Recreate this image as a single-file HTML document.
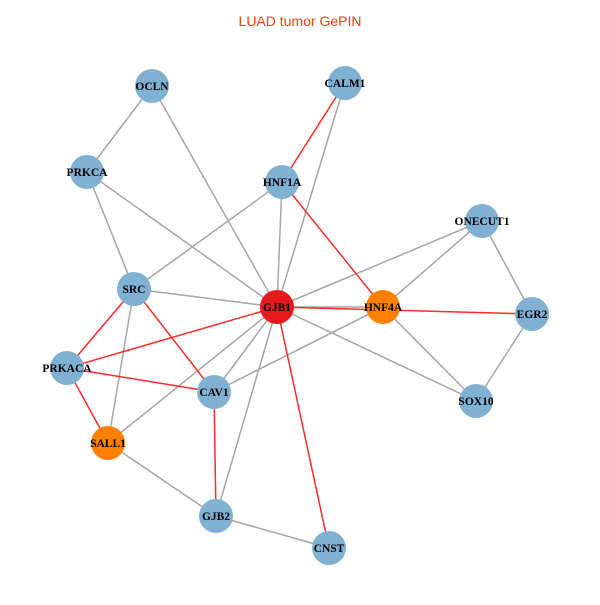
<!DOCTYPE html>
<html><head><meta charset="utf-8"><style>html,body{margin:0;padding:0;background:#fff}</style></head>
<body>
<svg width="600" height="600" xmlns="http://www.w3.org/2000/svg">
<rect width="600" height="600" fill="#fff"/>
<text x="300" y="26" text-anchor="middle" font-family="Liberation Sans, sans-serif" font-size="14" fill="#f2400a">LUAD tumor GePIN</text>
<g stroke="#a6a6a6" stroke-width="1.5">
<line x1="152" y1="86" x2="87" y2="172"/>
<line x1="152" y1="86" x2="277" y2="307"/>
<line x1="345" y1="83" x2="277" y2="307"/>
<line x1="87" y1="172" x2="134" y2="289"/>
<line x1="87" y1="172" x2="277" y2="307"/>
<line x1="282" y1="182" x2="134" y2="289"/>
<line x1="282" y1="182" x2="277" y2="307"/>
<line x1="482" y1="221" x2="277" y2="307"/>
<line x1="482" y1="221" x2="383" y2="307"/>
<line x1="482" y1="221" x2="532" y2="314"/>
<line x1="532" y1="314" x2="476" y2="401"/>
<line x1="134" y1="289" x2="277" y2="307"/>
<line x1="134" y1="289" x2="108" y2="443"/>
<line x1="277" y1="307" x2="383" y2="307"/>
<line x1="277" y1="307" x2="476" y2="401"/>
<line x1="383" y1="307" x2="476" y2="401"/>
<line x1="383" y1="307" x2="214" y2="392"/>
<line x1="277" y1="307" x2="214" y2="392"/>
<line x1="277" y1="307" x2="108" y2="443"/>
<line x1="277" y1="307" x2="216" y2="516"/>
<line x1="108" y1="443" x2="216" y2="516"/>
<line x1="216" y1="516" x2="329" y2="548"/>
</g>
<g stroke="#ff2a2a" stroke-width="1.5">
<line x1="345" y1="83" x2="282" y2="182"/>
<line x1="282" y1="182" x2="383" y2="307"/>
<line x1="277" y1="307" x2="532" y2="314"/>
<line x1="134" y1="289" x2="67" y2="368"/>
<line x1="134" y1="289" x2="214" y2="392"/>
<line x1="67" y1="368" x2="277" y2="307"/>
<line x1="67" y1="368" x2="214" y2="392"/>
<line x1="67" y1="368" x2="108" y2="443"/>
<line x1="214" y1="392" x2="216" y2="516"/>
<line x1="277" y1="307" x2="329" y2="548"/>
</g>
<g>
<circle cx="152" cy="86" r="17" fill="#80b1d3"/>
<circle cx="345" cy="83" r="17" fill="#80b1d3"/>
<circle cx="87" cy="172" r="17" fill="#80b1d3"/>
<circle cx="282" cy="182" r="17" fill="#80b1d3"/>
<circle cx="482" cy="221" r="17" fill="#80b1d3"/>
<circle cx="134" cy="289" r="17" fill="#80b1d3"/>
<circle cx="277" cy="307" r="17" fill="#e41a1c"/>
<circle cx="383" cy="307" r="17" fill="#ff7f00"/>
<circle cx="532" cy="314" r="17" fill="#80b1d3"/>
<circle cx="67" cy="368" r="17" fill="#80b1d3"/>
<circle cx="214" cy="392" r="17" fill="#80b1d3"/>
<circle cx="476" cy="401" r="17" fill="#80b1d3"/>
<circle cx="108" cy="443" r="17" fill="#ff7f00"/>
<circle cx="216" cy="516" r="17" fill="#80b1d3"/>
<circle cx="329" cy="548" r="17" fill="#80b1d3"/>
</g>
<g font-family="Liberation Serif, serif" font-weight="bold" font-size="11.5" fill="#000" text-anchor="middle">
<text x="152" y="90">OCLN</text>
<text x="345" y="87">CALM1</text>
<text x="87" y="176">PRKCA</text>
<text x="282" y="186">HNF1A</text>
<text x="482" y="225">ONECUT1</text>
<text x="134" y="293">SRC</text>
<text x="277" y="311">GJB1</text>
<text x="383" y="311">HNF4A</text>
<text x="532" y="318">EGR2</text>
<text x="67" y="372">PRKACA</text>
<text x="214" y="396">CAV1</text>
<text x="476" y="405">SOX10</text>
<text x="108" y="447">SALL1</text>
<text x="216" y="520">GJB2</text>
<text x="329" y="552">CNST</text>
</g>
</svg>
</body></html>
